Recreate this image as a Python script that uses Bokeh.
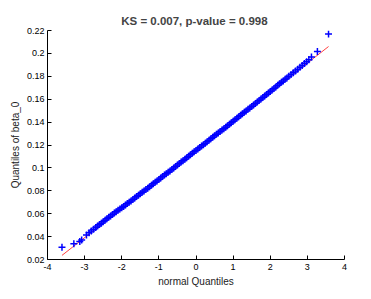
from bokeh.plotting import figure
from bokeh.models import Range1d, FixedTicker
from bokeh.embed import file_html
from bokeh.resources import INLINE

# Data
normal_q = [-3.61, -3.29, -3.13, -3.08, -2.95, -2.88, -2.82, -2.76, -2.70, -2.65, -2.60, -2.55,
            -2.50, -2.45, -2.40, -2.35, -2.30, -2.25, -2.20, -2.15, -2.10, -2.05,
            -2.00, -1.95, -1.90, -1.85, -1.80, -1.75, -1.70, -1.65, -1.60, -1.55,
            -1.50, -1.45, -1.40, -1.35, -1.30, -1.25, -1.20, -1.15, -1.10, -1.05,
            -1.00, -0.95, -0.90, -0.85, -0.80, -0.75, -0.70, -0.65, -0.60, -0.55,
            -0.50, -0.45, -0.40, -0.35, -0.30, -0.25, -0.20, -0.15, -0.10, -0.05,
            0.00, 0.05, 0.10, 0.15, 0.20, 0.25, 0.30, 0.35, 0.40, 0.45,
            0.50, 0.55, 0.60, 0.65, 0.70, 0.75, 0.80, 0.85, 0.90, 0.95,
            1.00, 1.05, 1.10, 1.15, 1.20, 1.25, 1.30, 1.35, 1.40, 1.45,
            1.50, 1.55, 1.60, 1.65, 1.70, 1.75, 1.80, 1.85, 1.90, 1.95,
            2.00, 2.05, 2.10, 2.15, 2.20, 2.25, 2.30, 2.35, 2.40, 2.45,
            2.50, 2.56, 2.62, 2.68, 2.74, 2.80, 2.86, 2.92, 2.98, 3.04, 3.11, 3.27, 3.57]
beta_q = [0.0307, 0.0337, 0.0357, 0.0371, 0.0415, 0.0434, 0.0449, 0.0464, 0.0479, 0.0492, 0.0505, 0.0517,
          0.0530, 0.0543, 0.0555, 0.0568, 0.0581, 0.0594, 0.0606, 0.0617, 0.0630, 0.0640,
          0.0651, 0.0663, 0.0675, 0.0688, 0.0700, 0.0712, 0.0724, 0.0737, 0.0750, 0.0761,
          0.0774, 0.0787, 0.0798, 0.0811, 0.0823, 0.0836, 0.0848, 0.0861, 0.0874, 0.0886,
          0.0899, 0.0912, 0.0924, 0.0937, 0.0950, 0.0961, 0.0974, 0.0987, 0.0999, 0.1012,
          0.1026, 0.1038, 0.1051, 0.1063, 0.1076, 0.1089, 0.1102, 0.1114, 0.1127, 0.1140,
          0.1153, 0.1165, 0.1178, 0.1191, 0.1203, 0.1216, 0.1229, 0.1242, 0.1254, 0.1267,
          0.1280, 0.1293, 0.1305, 0.1318, 0.1331, 0.1343, 0.1356, 0.1369, 0.1382, 0.1394,
          0.1407, 0.1421, 0.1433, 0.1446, 0.1460, 0.1472, 0.1485, 0.1498, 0.1512, 0.1524,
          0.1537, 0.1550, 0.1563, 0.1576, 0.1589, 0.1602, 0.1615, 0.1628, 0.1642, 0.1654,
          0.1668, 0.1681, 0.1694, 0.1707, 0.1721, 0.1734, 0.1747, 0.1760, 0.1774, 0.1786,
          0.1800, 0.1815, 0.1831, 0.1847, 0.1862, 0.1878, 0.1894, 0.1911, 0.1928, 0.1945, 0.1968, 0.2017, 0.2170]
ref_x = [-3.61, 3.57]
ref_y = [0.0236, 0.2060]
x_ticks = [-4, -3, -2, -1, 0, 1, 2, 3, 4]
y_ticks = [0.02, 0.04, 0.06, 0.08, 0.1, 0.12, 0.14, 0.16, 0.18, 0.2, 0.22]
title_text = "KS = 0.007,  p-value = 0.998"

FONT = "Liberation Sans"

p = figure(width=370, height=298, output_backend="svg", toolbar_location=None,
           x_range=Range1d(-4, 4), y_range=Range1d(0.02, 0.22),
           min_border_left=47, min_border_right=26, min_border_top=30, min_border_bottom=39,
           title=title_text)
p.outline_line_color = None
p.background_fill_color = "white"
p.border_fill_color = "white"
p.xgrid.visible = False
p.ygrid.visible = False

p.title.text_font = FONT
p.title.text_font_size = "11.5px"
p.title.text_font_style = "bold"
p.title.align = "center"
p.title.offset = 11
p.title.standoff = 8

p.line(ref_x, ref_y, line_color="red", line_width=1, line_alpha=0.75)
p.scatter(normal_q, beta_q, marker="cross", size=7, line_color="blue", line_width=1.5)

for ax in (p.xaxis[0], p.yaxis[0]):
    ax.major_tick_in = 4
    ax.major_tick_out = 0
    ax.minor_tick_in = 0
    ax.minor_tick_out = 0
    ax.axis_line_color = "black"
    ax.major_tick_line_color = "black"
    ax.major_label_text_font = FONT
    ax.major_label_text_font_size = "9px"
    ax.major_label_text_color = "black"
    ax.axis_label_text_font = FONT
    ax.axis_label_text_font_size = "10px"
    ax.axis_label_text_font_style = "normal"
    ax.axis_label_text_color = "#222222"

p.xaxis.ticker = FixedTicker(ticks=x_ticks)
p.yaxis.ticker = FixedTicker(ticks=y_ticks)
p.xaxis.major_label_overrides = {t: str(t) for t in x_ticks}
p.yaxis.major_label_overrides = {t: ("%g" % t) for t in y_ticks}
p.xaxis.axis_label = "normal Quantiles"
p.yaxis.axis_label = "Quantiles of beta_0"
p.xaxis.major_label_standoff = 4
p.yaxis.major_label_standoff = 3
p.xaxis.axis_label_standoff = 3
p.yaxis.axis_label_standoff = 3

open("out.html", "w").write(file_html(p, INLINE))
